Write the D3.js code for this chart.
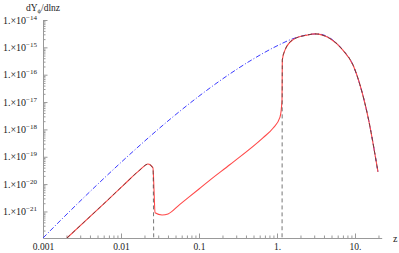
<!DOCTYPE html>
<html>
<head>
<meta charset="utf-8">
<script src="https://cdn.jsdelivr.net/npm/d3@7"></script>
<style>
  body { margin: 0; background: #fff; }
  text { font-family: "Liberation Serif", "DejaVu Serif", serif; fill: #222; }
</style>
</head>
<body>
<div id="chart"></div>
<script>
// blue dot-dashed curve
const blueZ = [0.001, 0.00175, 0.0054, 0.0143, 0.040, 0.103, 0.25, 0.45, 1.0, 1.6, 3.26, 4.78, 7.0, 9.4, 11.6, 14.7, 19.7];
const blueY = [1.07e-22, 5.3e-22, 1.2e-20, 1.57e-19, 2.03e-18, 1.75e-17, 1.08e-16, 3.17e-16, 1.13e-15, 2.07e-15, 3.1e-15, 2.2e-15, 7.9e-16, 2.3e-16, 4.2e-17, 2.8e-18, 2.8e-20];

// red solid curve
const redZ = [0.00203, 0.0066, 0.0112, 0.0175, 0.0222, 0.0257, 0.0265, 0.0273, 0.0336, 0.0401, 0.0569, 0.1, 0.138, 0.25, 0.66, 0.888, 1.093, 1.16, 1.17, 1.266, 1.6, 2.42, 3.07, 4.78, 7.0, 9.4, 11.6, 14.7, 19.7];
const redY = [1.07e-22, 2.45e-21, 1.02e-20, 3.3e-20, 5.4e-20, 3.9e-20, 6.2e-21, 8.9e-22, 7.4e-22, 8.1e-22, 1.82e-21, 6.6e-21, 1.4e-20, 5.2e-20, 4.9e-19, 1.1e-18, 2.8e-18, 1.2e-17, 3.5e-16, 7.9e-16, 1.9e-15, 2.8e-15, 3.1e-15, 2.1e-15, 7.9e-16, 2.3e-16, 4.2e-17, 2.8e-18, 2.8e-20];

// black dashed curve, two pieces
const dash1Z = [0.00203, 0.0066, 0.0112, 0.0175, 0.0222, 0.0257, 0.0265];
const dash1Y = [1.07e-22, 2.45e-21, 1.02e-20, 3.3e-20, 5.4e-20, 3.9e-20, 1e-24];
const dash2Z = [1.16, 1.17, 1.266, 1.6, 2.42, 3.07, 4.78, 7.0, 9.4, 11.6, 14.7, 19.7];
const dash2Y = [1e-24, 3.5e-16, 7.9e-16, 1.9e-15, 2.8e-15, 3.1e-15, 2.1e-15, 7.9e-16, 2.3e-16, 4.2e-17, 2.8e-18, 2.8e-20];

const xTicks = [0.001, 0.01, 0.1, 1, 10];
const xTickLabels = ["0.001", "0.01", "0.1", "1.", "10."];
const yTickExps = [-21, -20, -19, -18, -17, -16, -15, -14];

const width = 399, height = 253;
const plotLeft = 43, plotRight = 381.7, plotTop = 20, plotBottom = 238;

const svg = d3.select("#chart").append("svg")
  .attr("width", width)
  .attr("height", height);

const x = d3.scaleLog().domain([0.001, 22]).range([plotLeft, plotRight]);
const y = d3.scaleLog().domain([1.07e-22, 1e-14]).range([plotBottom, plotTop]);

// minor tick positions, 2..9 in each decade
const xMinor = [];
for (let e = -3; e <= 1; e++) for (let k = 2; k <= 9; k++) {
  const v = k * Math.pow(10, e);
  if (v <= 22) xMinor.push(v);
}
const yMinor = [];
for (let e = -22; e <= -15; e++) for (let k = 2; k <= 9; k++) {
  const v = k * Math.pow(10, e);
  if (v >= 1.07e-22 && v < 1e-14) yMinor.push(v);
}

const tickColor = "#999";

// x axis
svg.append("g")
  .attr("transform", `translate(0,${plotBottom})`)
  .call(d3.axisBottom(x).tickValues(xMinor).tickSize(-2.5).tickFormat(""))
  .call(g => g.select(".domain").remove())
  .selectAll("line").attr("stroke", tickColor);

svg.append("g")
  .attr("transform", `translate(0,${plotBottom})`)
  .call(d3.axisBottom(x).tickValues(xTicks).tickSize(-4.5).tickSizeOuter(0)
    .tickPadding(5).tickFormat((d, i) => xTickLabels[i]))
  .call(g => g.select(".domain").attr("stroke", tickColor))
  .call(g => g.selectAll("line").attr("stroke", tickColor))
  .call(g => g.selectAll("text")
    .style("font-size", "9.5px")
    .style("font-family", "Liberation Serif, serif")
    .attr("fill", "#222"));

// y axis
svg.append("g")
  .attr("transform", `translate(${plotLeft},0)`)
  .call(d3.axisLeft(y).tickValues(yMinor).tickSize(-2.5).tickFormat(""))
  .call(g => g.select(".domain").remove())
  .selectAll("line").attr("stroke", tickColor);

const yMajor = svg.append("g")
  .attr("transform", `translate(${plotLeft},0)`)
  .call(d3.axisLeft(y).tickValues(yTickExps.map(e => Math.pow(10, e)))
    .tickSize(-4.5).tickSizeOuter(0).tickPadding(6).tickFormat(""));
yMajor.select(".domain").attr("stroke", tickColor);
yMajor.selectAll("line").attr("stroke", tickColor);

// y labels as 1.×10^n
svg.append("g").selectAll("text")
  .data(yTickExps)
  .enter()
  .append("text")
  .attr("x", 37)
  .attr("y", d => y(Math.pow(10, d)) + 3.5)
  .attr("text-anchor", "end")
  .style("font-size", "10px")
  .each(function (d) {
    const t = d3.select(this);
    t.append("tspan").text("1.\u00d710");
    t.append("tspan").attr("dy", -4).style("font-size", "7px").text("\u2212" + Math.abs(d));
  });

// axis titles
const yTitle = svg.append("text")
  .attr("x", 43)
  .attr("y", 11)
  .attr("text-anchor", "middle")
  .style("font-size", "9.5px");
yTitle.append("tspan").text("dY");
yTitle.append("tspan").attr("dy", 2).style("font-size", "6.5px").text("\u03d5");
yTitle.append("tspan").attr("dy", -2).text("/dlnz");

svg.append("text")
  .attr("x", 393)
  .attr("y", 242)
  .style("font-size", "10px")
  .text("z");

// curves
svg.append("clipPath").attr("id", "clip")
  .append("rect")
  .attr("x", plotLeft).attr("y", plotTop - 5)
  .attr("width", plotRight - plotLeft).attr("height", plotBottom - plotTop + 5);

const line = d3.line()
  .x(d => x(d[0]))
  .y(d => y(d[1]))
  .curve(d3.curveMonotoneX);

const plot = svg.append("g").attr("clip-path", "url(#clip)");

plot.append("path")
  .datum(blueZ.map((z, i) => [z, blueY[i]]))
  .attr("d", line)
  .attr("fill", "none")
  .attr("stroke", "#3a3aff")
  .attr("stroke-width", 1)
  .attr("stroke-dasharray", "5,2,1,2");

plot.append("path")
  .datum(redZ.map((z, i) => [z, redY[i]]))
  .attr("d", line)
  .attr("fill", "none")
  .attr("stroke", "#ff4a4a")
  .attr("stroke-width", 1.1);

[[dash1Z, dash1Y], [dash2Z, dash2Y]].forEach(([zs, vs]) => {
  plot.append("path")
    .datum(zs.map((z, i) => [z, vs[i]]))
    .attr("d", line)
    .attr("fill", "none")
    .attr("stroke", "#333")
    .attr("stroke-opacity", 0.75)
    .attr("stroke-width", 0.9)
    .attr("stroke-dasharray", "4,3");
});
</script>
</body>
</html>
